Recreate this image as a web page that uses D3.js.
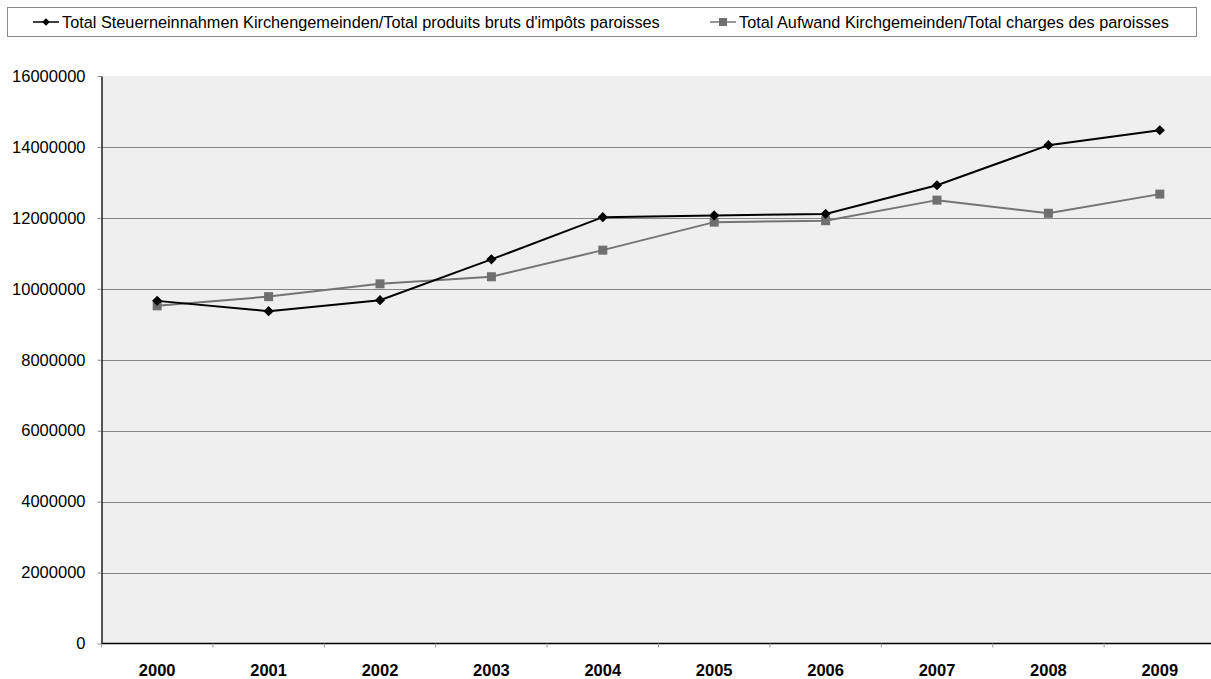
<!doctype html>
<html lang="de">
<head>
<meta charset="utf-8">
<title>Kirchgemeinden</title>
<script src="https://d3js.org/d3.v7.min.js"></script>
<style>
  body { margin: 0; background: #fff; }
  svg { font-family: "Liberation Sans", Arial, sans-serif; }
</style>
</head>
<body>
<div id="chart"></div>
<script>
// data
var years = ["2000", "2001", "2002", "2003", "2004", "2005", "2006", "2007", "2008", "2009"];
var steuern = [9660000, 9370000, 9680000, 10830000, 12020000, 12070000, 12110000, 12920000, 14050000, 14470000];
var aufwand = [9520000, 9780000, 10140000, 10340000, 11090000, 11880000, 11920000, 12500000, 12130000, 12670000];
var yTicks = [0, 2000000, 4000000, 6000000, 8000000, 10000000, 12000000, 14000000, 16000000];
var legendLabels = [
  "Total Steuerneinnahmen Kirchengemeinden/Total produits bruts d'impôts paroisses",
  "Total Aufwand Kirchgemeinden/Total charges des paroisses"
];

(function() {
  var width = 1211, height = 679;
  var plotL = 101.5, plotR = 1215.5, plotT = 76, plotB = 643.5;

  var svg = d3.select("#chart").append("svg")
      .attr("width", width)
      .attr("height", height);

  var x = d3.scaleBand().domain(years).range([plotL, plotR]);
  var y = d3.scaleLinear().domain([0, 16000000]).range([plotB, plotT]);
  var cx = function(i) { return x(years[i]) + x.bandwidth() / 2; };

  // plot background
  svg.append("rect")
      .attr("x", plotL).attr("y", plotT)
      .attr("width", plotR - plotL).attr("height", plotB - plotT)
      .attr("fill", "#efefef");

  // gridlines
  svg.append("g")
      .selectAll("line")
      .data(yTicks.filter(d => d > 0 && d < 16000000))
      .enter().append("line")
      .attr("x1", plotL).attr("x2", plotR)
      .attr("y1", d => Math.round(y(d)) + 0.5)
      .attr("y2", d => Math.round(y(d)) + 0.5)
      .attr("stroke", "#848484")
      .attr("stroke-width", 1);

  // y axis
  var yAxis = svg.append("g")
      .attr("transform", "translate(" + plotL + ",0)")
      .call(d3.axisLeft(y).tickValues(yTicks).tickFormat(d3.format("d")).tickSize(4).tickSizeOuter(0).tickPadding(12));
  yAxis.select(".domain").attr("stroke", "#000").attr("stroke-width", 1.3);
  yAxis.selectAll(".tick line").attr("stroke", "#888");
  yAxis.selectAll("text").attr("font-size", 16.5).attr("fill", "#000")
      .attr("font-family", "Liberation Sans, Arial, sans-serif");

  // x axis: ticks at band boundaries
  var xg = svg.append("g")
      .attr("transform", "translate(0," + plotB + ")");
  xg.append("line")
      .attr("x1", plotL).attr("x2", plotR)
      .attr("stroke", "#000").attr("stroke-width", 1.5);
  xg.selectAll("line.tk")
      .data(years)
      .enter().append("line")
      .attr("class", "tk")
      .attr("x1", d => x(d)).attr("x2", d => x(d))
      .attr("y1", 0).attr("y2", 4)
      .attr("stroke", "#999");
  xg.selectAll("text")
      .data(years)
      .enter().append("text")
      .attr("x", d => x(d) + x.bandwidth() / 2)
      .attr("y", 32)
      .attr("text-anchor", "middle")
      .attr("font-size", 16.5)
      .attr("font-weight", "bold")
      .text(d => d);

  var line = d3.line()
      .x((d, i) => cx(i))
      .y(d => y(d));

  // series 2 (grey squares)
  svg.append("path")
      .datum(aufwand)
      .attr("fill", "none")
      .attr("stroke", "#747474")
      .attr("stroke-width", 2)
      .attr("d", line);
  svg.append("g").selectAll("rect")
      .data(aufwand)
      .enter().append("rect")
      .attr("x", (d, i) => cx(i) - 4.5)
      .attr("y", d => y(d) - 4.5)
      .attr("width", 9).attr("height", 9)
      .attr("fill", "#6f6f6f");

  // series 1 (black diamonds)
  var diamond = d3.symbol().type(d3.symbolSquare).size(52);
  svg.append("path")
      .datum(steuern)
      .attr("fill", "none")
      .attr("stroke", "#000")
      .attr("stroke-width", 2)
      .attr("d", line);
  svg.append("g").selectAll("path")
      .data(steuern)
      .enter().append("path")
      .attr("d", diamond)
      .attr("transform", (d, i) => "translate(" + cx(i) + "," + y(d) + ") rotate(45)")
      .attr("fill", "#000");

  // legend
  var lg = svg.append("g");
  lg.append("rect")
      .attr("x", 7.5).attr("y", 7.5)
      .attr("width", 1189).attr("height", 29)
      .attr("fill", "#fff")
      .attr("stroke", "#8a8a8a");

  var legendItems = [
    {x: 33, label: legendLabels[0], color: "#000", marker: "diamond"},
    {x: 710, label: legendLabels[1], color: "#747474", marker: "square"}
  ];
  legendItems.forEach(function(it) {
    lg.append("line")
        .attr("x1", it.x).attr("x2", it.x + 26)
        .attr("y1", 22).attr("y2", 22)
        .attr("stroke", it.color).attr("stroke-width", 1.5);
    if (it.marker === "diamond") {
      lg.append("path")
          .attr("d", d3.symbol().type(d3.symbolSquare).size(30))
          .attr("transform", "translate(" + (it.x + 13) + ",22) rotate(45)")
          .attr("fill", "#000");
    } else {
      lg.append("rect")
          .attr("x", it.x + 9).attr("y", 18)
          .attr("width", 8).attr("height", 8)
          .attr("fill", "#6f6f6f");
    }
    lg.append("text")
        .attr("x", it.x + 29)
        .attr("y", 28)
        .attr("font-size", 16.3)
        .attr("fill", "#000")
        .text(it.label);
  });
})();
</script>
</body>
</html>
